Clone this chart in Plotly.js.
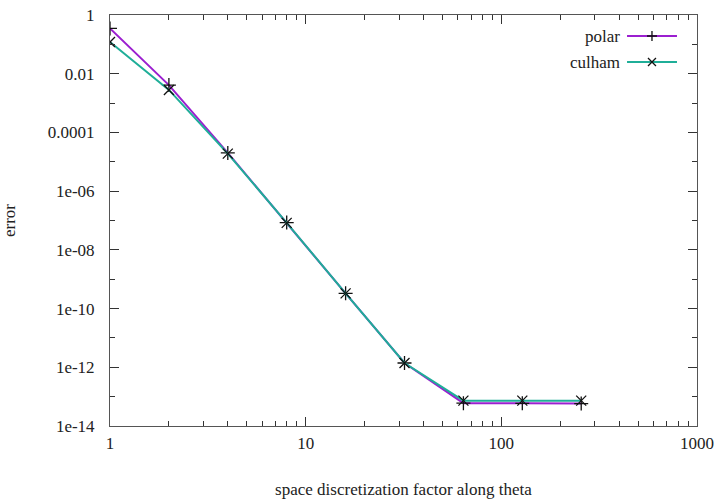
<!DOCTYPE html>
<html>
<head>
<meta charset="utf-8">
<script src="https://cdn.plot.ly/plotly-3.0.1.min.js"></script>
<style>html,body{margin:0;padding:0;background:#fff;}#chart{width:719px;height:499px;}</style>
</head>
<body>
<div id="chart"></div>
<script>
// ---- data ----
const xValues = [1, 2, 4, 8, 16, 32, 64, 128, 256];
const polarError = [0.35, 0.0041, 2.0e-5, 8.5e-8, 3.3e-10, 1.4e-12, 6.0e-14, 5.9e-14, 5.8e-14];
const culhamError = [0.12, 0.0028, 1.9e-5, 8.3e-8, 3.3e-10, 1.4e-12, 7.3e-14, 7.3e-14, 7.3e-14];
const seriesNames = ["polar", "culham"];
const xTickVals = [1, 10, 100, 1000];
const xTickText = ["1", "10", "100", "1000"];
const yTickVals = [1, 1e-2, 1e-4, 1e-6, 1e-8, 1e-10, 1e-12, 1e-14];
const yTickText = ["1", "0.01", "0.0001", "1e-06", "1e-08", "1e-10", "1e-12", "1e-14"];
const yMinorVals = [1e-1, 1e-3, 1e-5, 1e-7, 1e-9, 1e-11, 1e-13];
const xMinorVals = [2,3,4,5,6,7,8,9,20,30,40,50,60,70,80,90,200,300,400,500,600,700,800,900];
const xLabel = "space discretization factor along theta";
const yLabel = "error";

const colors = ["#9b1fd0", "#1fae98"];
const symbols = ["cross-thin-open", "x-thin-open"];
const font = "Liberation Serif, serif";
const fs = 17;

const traces = [polarError, culhamError].map((ys, i) => ({
  x: xValues, y: ys, name: seriesNames[i], type: "scatter", mode: "lines+markers",
  line: {color: colors[i], width: 2},
  marker: {symbol: symbols[i], size: 10, color: "#111", line: {color: "#111", width: 1.3}},
  showlegend: false
}));

// custom gnuplot-style legend (text left, sample right)
const legendY = [0.9489, 0.8856];
const shapes = [], annotations = [];
seriesNames.forEach((n, i) => {
  shapes.push({type: "line", xref: "paper", yref: "paper", x0: 0.8808, x1: 0.9659, y0: legendY[i], y1: legendY[i],
    line: {color: colors[i], width: 2}});
  const p = i === 0 ? "M-5,0L5,0M0,-5L0,5" : "M-4,-4L4,4M-4,4L4,-4";
  shapes.push({type: "path", xref: "paper", yref: "paper", xsizemode: "pixel", ysizemode: "pixel",
    xanchor: 0.9233, yanchor: legendY[i], path: p, line: {color: "#111", width: 1.3}});
  annotations.push({xref: "paper", yref: "paper", x: 0.872, y: legendY[i], text: n, showarrow: false,
    xanchor: "right", yanchor: "middle", font: {family: font, size: fs, color: "#222"}});
});

const layout = {
  width: 719, height: 499,
  margin: {l: 110, r: 22, t: 15, b: 73},
  paper_bgcolor: "#fff", plot_bgcolor: "#fff",
  font: {family: font, size: fs, color: "#222"},
  showlegend: false,
  xaxis: {
    type: "log", range: [0, 3], showgrid: false, zeroline: false,
    showline: true, linecolor: "#555", linewidth: 1, mirror: "ticks",
    ticks: "inside", ticklen: 9, tickcolor: "#333", tickwidth: 1,
    tickmode: "array", tickvals: xTickVals, ticktext: xTickText,
    ticklabelstandoff: 2,
    minor: {tickmode: "array", tickvals: xMinorVals, ticks: "inside", ticklen: 5, tickcolor: "#333", showgrid: false},
    tickfont: {family: font, size: fs, color: "#222"},
    title: {text: xLabel, font: {family: font, size: fs, color: "#222"}, standoff: 41}
  },
  yaxis: {
    type: "log", range: [-14, 0], showgrid: false, zeroline: false,
    showline: true, linecolor: "#555", linewidth: 1, mirror: "ticks",
    ticks: "inside", ticklen: 9, tickcolor: "#333", tickwidth: 1,
    tickmode: "array", tickvals: yTickVals, ticktext: yTickText,
    ticklabelstandoff: 11,
    minor: {tickmode: "array", tickvals: yMinorVals, ticks: "inside", ticklen: 5, tickcolor: "#333", showgrid: false},
    tickfont: {family: font, size: fs, color: "#222"},
    title: {text: yLabel, font: {family: font, size: fs, color: "#222"}, standoff: 30}
  },
  shapes: shapes,
  annotations: annotations
};

Plotly.newPlot("chart", traces, layout, {staticPlot: true, displayModeBar: false});
</script>
</body>
</html>
